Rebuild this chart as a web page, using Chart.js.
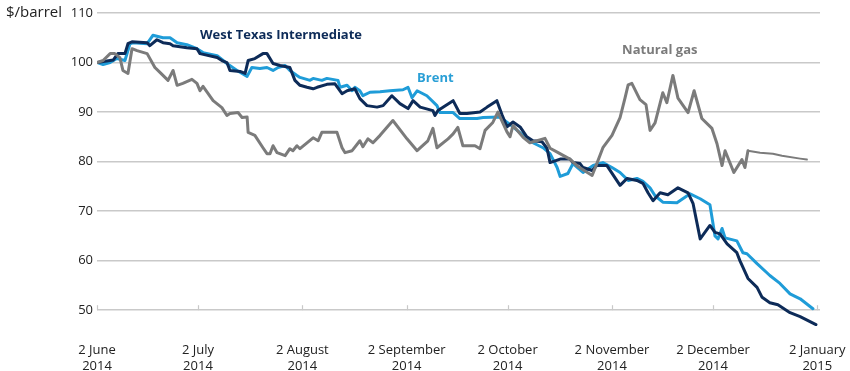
<!DOCTYPE html>
<html>
<head>
<meta charset="utf-8">
<script src="https://cdn.jsdelivr.net/npm/chart.js@4.4.1/dist/chart.umd.min.js"></script>
<style>
  html, body { margin: 0; padding: 0; background: #fff; }
  #wrap { width: 850px; height: 371px; }
</style>
</head>
<body>
<div id="wrap"><canvas id="oilChart"></canvas></div>
<script>
// x values are days counted from 2 June 2014
const monthTicks = [0, 30, 61, 92, 122, 153, 183, 214];
const monthLabels = [
  ["2 June", "2014"], ["2 July", "2014"], ["2 August", "2014"], ["2 September", "2014"],
  ["2 October", "2014"], ["2 November", "2014"], ["2 December", "2014"], ["2 January", "2015"]
];
const yTicks = [50, 60, 70, 80, 90, 100, 110];

const wtiDays = [0, 4.8, 6.2, 8.3, 9.2, 10.4, 14.9, 15.7, 17.8, 19.6, 21.7, 22.6, 26.7, 29.7, 30.6, 35.7, 37.1, 38.6, 39.5, 42.5,
  44.0, 44.9, 46.9, 49.3, 50.5, 52.3, 54.4, 57.3, 58.8, 60.3, 62.4, 64.2, 65.4, 68.3, 70.7, 72.8, 74.3, 76.6, 78.1, 80.2,
  83.2, 85.0, 87.6, 90.0, 92.4, 93.9, 96.0, 99.8, 100.4, 101.3, 105.8, 107.8, 109.9, 113.8, 115.9, 118.8, 120.3, 121.8, 123.6, 125.7,
  127.7, 129.5, 132.2, 133.7, 134.6, 137.6, 140.5, 141.4, 143.5, 144.4, 147.1, 148.5, 151.5, 155.4, 157.5, 160.4, 162.2, 163.7, 165.2, 167.3,
  169.6, 172.6, 175.6, 177.1, 179.2, 182.1, 183.6, 185.1, 187.2, 190.1, 191.0, 193.4, 196.1, 197.6, 199.9, 202.3, 205.9, 208.9, 213.6];
const wtiValues = [100, 100.5, 101.8, 101.8, 103.8, 104.2, 104, 103.4, 104.6, 104, 103.8, 103.4, 103, 102.8, 101.8, 101, 100.4, 100, 98.4, 98.2,
  97.8, 100.4, 100.8, 101.8, 101.8, 99.8, 99.4, 99, 96.4, 95.4, 95, 94.7, 95, 95.6, 95.7, 93.7, 94.3, 94.7, 92.7, 91.3,
  91, 91.3, 93.3, 91.7, 90.7, 92.3, 91, 90.3, 89.3, 90.3, 92.3, 89.7, 89.7, 90, 91, 92.3, 89.5, 87, 88, 87,
  85, 84.2, 84, 82.7, 79.8, 80.5, 80.5, 79.8, 79.6, 78.8, 78.2, 79.2, 79.2, 75.2, 76.6, 76.2, 75.6, 73.7, 72.1, 73.7,
  73.3, 74.7, 73.7, 71.5, 64.4, 67.1, 65.7, 65.4, 63.4, 61.6, 60, 56.4, 54.6, 52.6, 51.5, 51.1, 49.5, 48.7, 47.1];

const brentDays = [0, 1.8, 3.9, 5.9, 8.3, 9.8, 10.7, 14.9, 16.6, 19.6, 21.7, 23.8, 26.7, 29.7, 31.5, 35.7, 38.6, 41.6, 44.6, 46.0,
  48.4, 50.5, 52.3, 53.8, 55.9, 57.3, 59.4, 60.3, 63.3, 64.2, 66.8, 68.3, 71.6, 72.2, 74.3, 75.8, 76.6, 78.1, 79.0, 81.1,
  84.1, 87.0, 90.9, 92.4, 93.6, 95.1, 98.0, 101.0, 101.9, 105.8, 107.8, 112.9, 114.7, 119.7, 122.7, 126.6, 129.5, 132.5, 134.6, 136.7,
  137.6, 139.9, 141.4, 144.4, 147.4, 150.3, 153.0, 155.4, 157.8, 160.4, 162.2, 164.3, 165.8, 168.1, 172.3, 176.2, 179.2, 182.1, 183.6, 184.5,
  185.7, 186.6, 190.1, 191.9, 193.1, 196.1, 199.9, 202.9, 205.9, 208.9, 212.7];
const brentValues = [100, 99.6, 100, 100.8, 100.4, 103.8, 104, 103.8, 105.5, 105, 105, 104, 103.6, 102.8, 102, 101.4, 99.8, 98.4, 97.2, 99,
  98.8, 99, 98.4, 99, 99.4, 98.4, 97.4, 97, 96.4, 96.8, 96.4, 96.8, 96.4, 95, 95.4, 94.3, 95, 94.3, 93.3, 94,
  94.1, 94.3, 94.5, 95, 92.9, 94.3, 93.3, 91.3, 89.9, 89.9, 88.7, 88.7, 88.9, 89, 87.5, 85.3, 83.8, 82.8, 81.6, 78.8,
  77, 77.6, 79.6, 77.8, 79.2, 79.8, 78.8, 77.8, 76.2, 76.6, 76, 74.7, 73.1, 71.8, 71.7, 73.5, 72.5, 71.3, 65, 64.4,
  66.5, 64.6, 64, 61.6, 61.4, 59.4, 57, 55.4, 53.3, 52.3, 50.3];

const gasDays = [0, 1.8, 3.9, 5.3, 6.8, 7.7, 9.2, 10.4, 11.9, 14.9, 17.2, 18.7, 21.1, 22.6, 23.8, 25.5, 28.2, 29.7, 30.6, 31.5,
  34.5, 37.1, 38.6, 39.5, 41.9, 43.1, 44.6, 44.9, 46.9, 49.3, 50.5, 51.4, 52.3, 53.5, 55.9, 57.3, 58.2, 59.4, 60.3, 64.2,
  65.7, 66.8, 71.3, 72.8, 73.7, 75.8, 78.1, 79.0, 80.5, 82.0, 84.1, 87.9, 92.1, 95.1, 98.3, 99.8, 101.0, 104.3, 105.8, 107.2,
  108.7, 112.3, 113.8, 115.3, 117.6, 119.1, 121.8, 122.7, 123.6, 126.6, 128.6, 133.1, 134.6, 137.0, 140.5, 142.9, 147.1, 148.5, 150.3, 153.0,
  155.4, 156.9, 157.8, 158.9, 161.3, 163.1, 164.3, 165.8, 168.1, 169.3, 171.1, 172.6, 175.6, 177.4, 179.7, 182.7, 184.2, 185.7, 186.6, 189.2,
  191.6, 192.5, 193.4, 197.0, 200.8, 203.5, 208.9, 210.9];
const gasValues = [100, 100.4, 101.8, 101.8, 101, 98.4, 97.8, 102.8, 102.4, 101.8, 99, 98, 96.4, 98.4, 95.4, 95.8, 96.6, 95.8, 94.3, 95.2,
  92.3, 90.9, 89.3, 89.7, 89.9, 88.9, 89, 85.9, 85.3, 82.8, 81.6, 81.6, 83.2, 81.8, 81.2, 82.6, 82.2, 83.2, 82.6, 84.8,
  84.2, 85.9, 85.9, 82.8, 81.8, 82.2, 84.2, 83, 84.6, 83.8, 85.3, 88.3, 84.6, 82.2, 84.2, 86.7, 82.8, 84.6, 85.6, 86.9,
  83.2, 83.2, 82.6, 86.3, 87.9, 90, 86, 85, 87.3, 84.9, 83.8, 84.7, 82.7, 81.8, 80.5, 79, 77.2, 79.6, 82.8, 85.3,
  88.9, 92.9, 95.5, 95.8, 92.5, 91.5, 86.3, 87.8, 93.9, 91.9, 97.4, 92.8, 89.9, 94.3, 88.7, 86.7, 83.6, 79.2, 82.2, 77.8,
  80.4, 78.8, 82.2, 81.8, 81.6, 81.2, 80.6, 80.4];

const toPoints = (days, values) => days.map((d, i) => ({ x: d, y: values[i] }));

const gridColor = "#c9c9c9";
const fontFamily = "'Open Sans', 'DejaVu Sans', sans-serif";

// series names, axis unit and the little month ticks on the 50 line
const annotate = {
  id: "annotate",
  beforeDatasetsDraw(chart) {
    const { ctx, scales: { x, y } } = chart;
    const base = y.getPixelForValue(50);
    ctx.save();
    ctx.strokeStyle = gridColor;
    ctx.lineWidth = 1.2;
    monthTicks.forEach(d => {
      const px = Math.round(x.getPixelForValue(d)) + 0.5;
      ctx.beginPath();
      ctx.moveTo(px, base);
      ctx.lineTo(px, base - 5);
      ctx.stroke();
    });
    ctx.restore();
  },
  afterDatasetsDraw(chart) {
    const { ctx, scales: { x, y } } = chart;
    ctx.save();
    ctx.textBaseline = "middle";
    ctx.textAlign = "left";
    ctx.fillStyle = "#222";
    ctx.font = "15px " + fontFamily;
    ctx.fillText("$/barrel", 6, y.getPixelForValue(110));
    chart.data.datasets.forEach(ds => {
      const tag = ds.tag;
      ctx.fillStyle = tag.color;
      ctx.font = "bold 13px " + fontFamily;
      ctx.fillText(ds.label, x.getPixelForValue(tag.day), y.getPixelForValue(tag.value));
    });
    ctx.restore();
  }
};

new Chart(document.getElementById("oilChart"), {
  type: "line",
  data: {
    datasets: [
      {
        label: "Natural gas",
        data: toPoints(gasDays, gasValues),
        borderColor: "#7b7b7b",
        borderWidth: 3,
        segment: { borderWidth: c => c.p0.parsed.x >= 193 ? 2 : 3 },
        tag: { day: 156, value: 102.4, color: "#7b7b7b" }
      },
      {
        label: "West Texas Intermediate",
        data: toPoints(wtiDays, wtiValues),
        borderColor: "#0d2b58",
        borderWidth: 3,
        tag: { day: 30.6, value: 105.5, color: "#0d2b58" }
      },
      {
        label: "Brent",
        data: toPoints(brentDays, brentValues),
        borderColor: "#1f9cd8",
        borderWidth: 3,
        tag: { day: 95.1, value: 96.8, color: "#2a9fd6" }
      }
    ]
  },
  options: {
    responsive: true,
    maintainAspectRatio: false,
    animation: false,
    layout: { padding: { top: 13, right: 30, bottom: 0, left: 0 } },
    elements: {
      point: { radius: 0 },
      line: { tension: 0, borderJoinStyle: "round", borderCapStyle: "round" }
    },
    plugins: {
      legend: { display: false },
      tooltip: { enabled: false }
    },
    scales: {
      x: {
        type: "linear",
        min: 0,
        max: 214.8,
        afterBuildTicks: s => { s.ticks = monthTicks.map(v => ({ value: v })); },
        afterFit: s => { s.height = 41; s.paddingLeft = 0; s.paddingRight = 0; },
        grid: { display: false },
        border: { display: false },
        ticks: {
          autoSkip: false,
          maxRotation: 0,
          padding: 4,
          color: "#222",
          font: { family: fontFamily, size: 13, lineHeight: 1.25 },
          callback: (v, i) => monthLabels[i]
        }
      },
      y: {
        min: 46,
        max: 110,
        afterBuildTicks: s => { s.ticks = yTicks.map(v => ({ value: v })); },
        afterFit: s => { s.width = 97; s.paddingTop = 0; s.paddingBottom = 0; },
        grid: { color: gridColor, lineWidth: 1.5, drawTicks: false },
        border: { display: false },
        ticks: {
          padding: 4,
          color: "#222",
          font: { family: fontFamily, size: 13 }
        }
      }
    }
  },
  plugins: [annotate]
});
</script>
</body>
</html>
